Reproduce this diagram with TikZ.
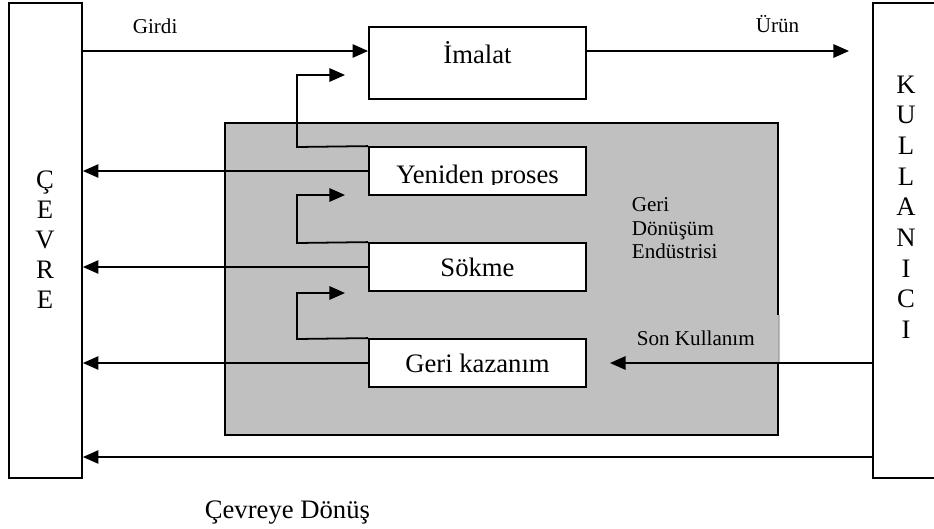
\documentclass[tikz,border=0pt]{standalone}
\usepackage{fontspec}
\setmainfont{Liberation Serif}
\usetikzlibrary{arrows.meta}
\definecolor{graybg}{HTML}{C0C0C0}
\begin{document}
\begin{tikzpicture}[x=0.45pt,y=-0.45pt,
  box/.style={draw,line width=0.8pt,inner sep=0pt},
  flow/.style={line width=0.8pt,-{Triangle[length=7pt,width=6pt]}},
  big/.style={font=\fontsize{12}{14}\selectfont},
  small/.style={font=\fontsize{9.5}{10.5}\selectfont}]
\useasboundingbox (0,0) rectangle (934,529);
% outer blocks
\node[box,minimum width=73*0.45pt,minimum height=475*0.45pt] (cevre) at (45.5,240.5) {};
\node[box,minimum width=72*0.45pt,minimum height=475*0.45pt] (kullanici) at (909,240.5) {};
\node[big,align=center,font=\fontsize{12}{13.5}\selectfont] at (45,240) {Ç\\E\\V\\R\\E};
\node[big,align=center,font=\fontsize{12}{13.8}\selectfont] at (906,207) {K\\U\\L\\L\\A\\N\\I\\C\\I};
% recycling industry
\node[box,fill=graybg,minimum width=553*0.45pt,minimum height=312*0.45pt] (endustri) at (501.5,279) {};
\fill[graybg] (776,315) rectangle (780,362);
\draw[gray!70,very thin] (778.5,315) -- (778.5,362);
\node[small,align=left,anchor=north west] at (624,190) {Geri\\Dönüşüm\\Endüstrisi};
% process boxes
\node[box,fill=white,minimum width=217*0.45pt,minimum height=72*0.45pt] (imalat) at (477.5,63) {};
\node[big,anchor=base] at (477.5,63) {İmalat};
\node[box,fill=white,minimum width=217*0.45pt,minimum height=48*0.45pt] (yeniden) at (477.5,171) {};
\begin{scope}
\clip (369,147) rectangle (586,184);
\node[big,anchor=base] at (477.5,183) {Yeniden proses};
\end{scope}
\node[box,fill=white,big,minimum width=217*0.45pt,minimum height=48*0.45pt] (sokme) at (477.5,267) {Sökme};
\node[box,fill=white,big,minimum width=217*0.45pt,minimum height=48*0.45pt] (gerikaz) at (477.5,363) {Geri kazanım};
% free ends
\coordinate (urun) at (849,51);
\coordinate (imalatin) at (345,75);
\coordinate (yenidenin) at (345,195);
\coordinate (sokmein) at (345,293);
\coordinate (sonkul) at (610,363);
% flows
\draw[flow] (cevre.east |- 0,51) -- (imalat.west |- 0,51);
\draw[flow] (imalat.east |- urun) -- (urun);
\draw[flow] (yeniden.north west) -- (297,147) |- (imalatin);
\draw[flow] (sokme.north west) -- (297,243) |- (yenidenin);
\draw[flow] (gerikaz.north west) -- (297,339) |- (sokmein);
\draw[flow] (yeniden.west) -- (cevre.east |- yeniden.west);
\draw[flow] (sokme.west) -- (cevre.east |- sokme.west);
\draw[flow] (gerikaz.west) -- (cevre.east |- gerikaz.west);
\draw[flow] (kullanici.west |- sonkul) -- (sonkul);
\draw[flow] (kullanici.west |- 0,457) -- (cevre.east |- 0,457);
% labels
\node[small,anchor=base west] at (125,33) {Girdi};
\node[small,anchor=base west] at (748,32) {Ürün};
\node[small,anchor=base west] at (629,345) {Son Kullanım};
\node[big,anchor=base west] at (197,518) {Çevreye Dönüş};
\end{tikzpicture}
\end{document}
